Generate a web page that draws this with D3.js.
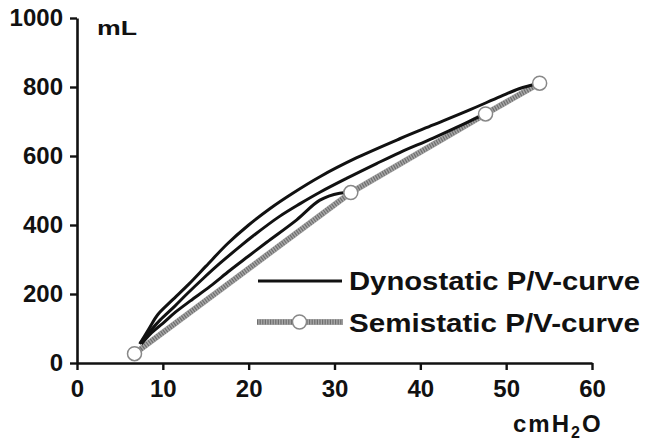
<!DOCTYPE html>
<html>
<head>
<meta charset="utf-8">
<script src="https://cdn.jsdelivr.net/npm/d3@7"></script>
<style>
  body { margin: 0; background: #fff; }
  text { font-family: "Liberation Sans", Arial, sans-serif; font-weight: bold; fill: #111; }
</style>
</head>
<body>
<div id="chart"></div>
<script>
/**
 * CONSTANTS AND GLOBALS
 * */
const width = 647,
  height = 442,
  margin = { top: 18, bottom: 79, left: 77, right: 55 };

// x ticks (cmH2O) and y ticks (mL)
const xTicks = [0, 10, 20, 30, 40, 50, 60];
const yTicks = [0, 200, 400, 600, 800, 1000];

// semistatic P/V-curve: measured points
const semiPressure = [6.7, 31.9, 47.6, 53.9];
const semiVolume = [27, 494, 722, 811];

// dynostatic P/V-curves, one per inflation volume [pressure, volume]
const dynoHigh = [
  [7.3, 55], [8.4, 100], [9.4, 140], [11, 180], [13, 228], [15, 280],
  [17.5, 345], [20, 400], [22.5, 448], [25, 490], [28.3, 540], [32.6, 595],
  [37.6, 650], [41.5, 690], [45.4, 730], [49.3, 772], [51.5, 795], [53.9, 811]
];
const dynoMid = [
  [7.4, 58], [8.6, 95], [9.7, 125], [11.4, 165], [12.8, 200], [14.7, 245],
  [16.7, 290], [19, 338], [20.5, 368], [23.6, 425], [26, 462], [28.3, 495],
  [31.4, 535], [34.9, 578], [37.6, 610], [41.5, 652], [45.4, 697], [47.6, 722]
];
const dynoLow = [
  [7.5, 55], [8.7, 88], [10, 115], [11.5, 148], [13.2, 180], [15.5, 222],
  [17.8, 268], [20, 310], [22.1, 350], [25.6, 415], [28.3, 472], [30.6, 492],
  [31.9, 494]
];

const legendLabels = ["Dynostatic P/V-curve", "Semistatic P/V-curve"];

/**
 * SCALES
 * */
const xScale = d3.scaleLinear()
  .domain([0, 60])
  .range([margin.left, width - margin.right]);

const yScale = d3.scaleLinear()
  .domain([0, 1000])
  .range([height - margin.bottom, margin.top]);

const svg = d3.select("#chart")
  .append("svg")
  .attr("width", width)
  .attr("height", height);

/**
 * AXES
 * */
const xAxis = d3.axisBottom(xScale)
  .tickValues(xTicks)
  .tickFormat(d3.format("d"))
  .tickSize(7)
  .tickSizeOuter(0)
  .tickPadding(10);

const yAxis = d3.axisLeft(yScale)
  .tickValues(yTicks)
  .tickFormat(d3.format("d"))
  .tickSize(7)
  .tickSizeOuter(0)
  .tickPadding(7);

const gx = svg.append("g")
  .attr("transform", `translate(0,${height - margin.bottom})`)
  .call(xAxis);

const gy = svg.append("g")
  .attr("transform", `translate(${margin.left},0)`)
  .call(yAxis);

[gx, gy].forEach(g => {
  g.select(".domain").attr("stroke", "#111").attr("stroke-width", 2.6);
  g.selectAll(".tick line").attr("stroke", "#111").attr("stroke-width", 2.4);
  g.selectAll(".tick text")
    .attr("font-size", 24)
    .attr("font-family", null)
    .attr("fill", "#111");
});

// axis units
svg.append("text")
  .attr("x", 97)
  .attr("y", 35)
  .attr("font-size", 21)
  .attr("textLength", 40)
  .attr("lengthAdjust", "spacingAndGlyphs")
  .text("mL");

const unitX = svg.append("text")
  .attr("x", 513)
  .attr("y", 432)
  .attr("font-size", 24)
  .style("letter-spacing", "2px");
unitX.append("tspan").text("cmH");
unitX.append("tspan").attr("font-size", 16).attr("dy", 6).text("2");
unitX.append("tspan").attr("dy", -6).text("O");

/**
 * LINES
 * */
const lineGen = d3.line()
  .x(d => xScale(d[0]))
  .y(d => yScale(d[1]))
  .curve(d3.curveCatmullRom.alpha(0.5));

const semiPoints = semiPressure.map((p, i) => [p, semiVolume[i]]);
const semiLine = d3.line()
  .x(d => xScale(d[0]))
  .y(d => yScale(d[1]));

// semistatic: textured grey band
svg.append("path")
  .attr("d", semiLine(semiPoints))
  .attr("fill", "none")
  .attr("stroke", "#a8a8a8")
  .attr("stroke-width", 6);
svg.append("path")
  .attr("d", semiLine(semiPoints))
  .attr("fill", "none")
  .attr("stroke", "#6e6e6e")
  .attr("stroke-width", 5)
  .attr("stroke-dasharray", "1.2 1.4");

svg.selectAll("path.dyno")
  .data([dynoHigh, dynoMid, dynoLow])
  .join("path")
  .attr("class", "dyno")
  .attr("d", d => lineGen(d))
  .attr("fill", "none")
  .attr("stroke", "#111")
  .attr("stroke-width", 3)
  .attr("stroke-linejoin", "round");

svg.selectAll("circle.semi")
  .data(semiPoints)
  .join("circle")
  .attr("class", "semi")
  .attr("cx", d => xScale(d[0]))
  .attr("cy", d => yScale(d[1]))
  .attr("r", 7)
  .attr("fill", "#fff")
  .attr("stroke", "#888")
  .attr("stroke-width", 1.5);

/**
 * LEGEND
 * */
const legend = svg.append("g");

legend.append("line")
  .attr("x1", 258).attr("x2", 342)
  .attr("y1", 281).attr("y2", 281)
  .attr("stroke", "#111")
  .attr("stroke-width", 3);

legend.append("line")
  .attr("x1", 257).attr("x2", 343)
  .attr("y1", 322).attr("y2", 322)
  .attr("stroke", "#a8a8a8")
  .attr("stroke-width", 6);
legend.append("line")
  .attr("x1", 257).attr("x2", 343)
  .attr("y1", 322).attr("y2", 322)
  .attr("stroke", "#6e6e6e")
  .attr("stroke-width", 5)
  .attr("stroke-dasharray", "1.2 1.4");
legend.append("circle")
  .attr("cx", 299.5).attr("cy", 322)
  .attr("r", 7)
  .attr("fill", "#fff")
  .attr("stroke", "#888")
  .attr("stroke-width", 1.5);

legend.selectAll("text.leg")
  .data(legendLabels)
  .join("text")
  .attr("class", "leg")
  .attr("x", 349)
  .attr("y", (d, i) => i === 0 ? 290 : 332)
  .attr("font-size", 25)
  .attr("textLength", 291)
  .attr("lengthAdjust", "spacingAndGlyphs")
  .text(d => d);
</script>
</body>
</html>
